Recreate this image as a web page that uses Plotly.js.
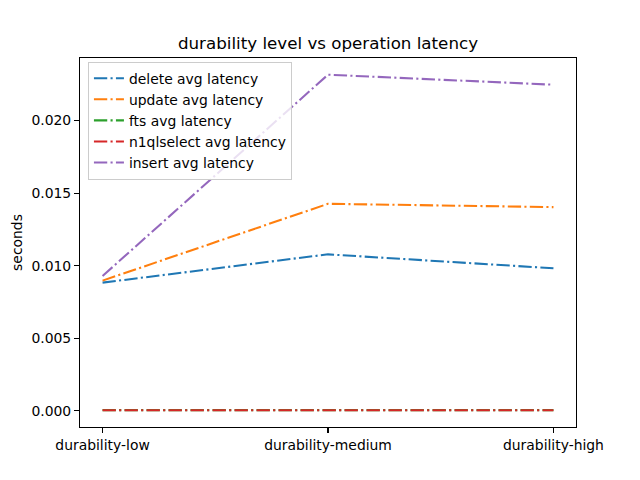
<!DOCTYPE html>
<html>
<head>
<meta charset="utf-8">
<script src="https://cdn.plot.ly/plotly-3.0.1.min.js"></script>
<style>html,body{margin:0;padding:0;background:#fff;}#chart{width:640px;height:480px;}</style>
</head>
<body>
<div id="chart"></div>
<script>
const categories = ["durability-low", "durability-medium", "durability-high"];
const deleteLatency = [0.00883, 0.01078, 0.00982];
const updateLatency = [0.00897, 0.01426, 0.01403];
const ftsLatency = [0.00005, 0.00005, 0.00005];
const n1qlselectLatency = [0.00004, 0.00004, 0.00004];
const insertLatency = [0.00929, 0.02315, 0.02246];

const seriesNames = ["delete avg latency", "update avg latency", "fts avg latency", "n1qlselect avg latency", "insert avg latency"];
const seriesValues = [deleteLatency, updateLatency, ftsLatency, n1qlselectLatency, insertLatency];
const colors = ["#1f77b4", "#ff7f0e", "#2ca02c", "#d62728", "#9467bd"];

const traces = seriesValues.map((vals, i) => ({
  x: [0, 1, 2],
  y: vals,
  name: seriesNames[i],
  type: "scatter",
  mode: "lines",
  line: {color: colors[i], width: 2.08, dash: "13.3px,3.3px,2.1px,3.3px"}
}));

const font = {family: "DejaVu Sans", size: 13.9, color: "#000"};
const layout = {
  width: 640, height: 480,
  margin: {l: 80, r: 64, t: 58, b: 53, pad: 0},
  paper_bgcolor: "#fff", plot_bgcolor: "#fff",
  font: font,
  showlegend: true,
  title: {text: "durability level vs operation latency", font: {family: "DejaVu Sans", size: 16.7, color: "#000"}, xref: "paper", x: 0.5, xanchor: "center", y: 1 - 43/480, yanchor: "middle"},
  xaxis: {
    range: [-0.1, 2.1], tickvals: [0, 1, 2], ticktext: categories,
    showline: true, mirror: true, linecolor: "#000", linewidth: 1.1,
    ticks: "outside", ticklen: 4.9, tickwidth: 1.1, tickcolor: "#000",
    showgrid: false, zeroline: false, tickfont: font
  },
  yaxis: {
    range: [-0.00111, 0.0243], tick0: 0, dtick: 0.005, tickformat: ".3f",
    showline: true, mirror: true, linecolor: "#000", linewidth: 1.1,
    ticks: "outside", ticklen: 4.9, tickwidth: 1.1, tickcolor: "#000",
    showgrid: false, zeroline: false, tickfont: font,
    title: {text: "seconds", font: font, standoff: 5}
  },
  legend: {
    x: 0.016, y: 0.99, xanchor: "left", yanchor: "top",
    bgcolor: "rgba(255,255,255,0.8)", bordercolor: "#cccccc", borderwidth: 1,
    font: font, tracegroupgap: 0, itemwidth: 30
  }
};
Plotly.newPlot("chart", traces, layout, {displayModeBar: false, staticPlot: true});
</script>
</body>
</html>
